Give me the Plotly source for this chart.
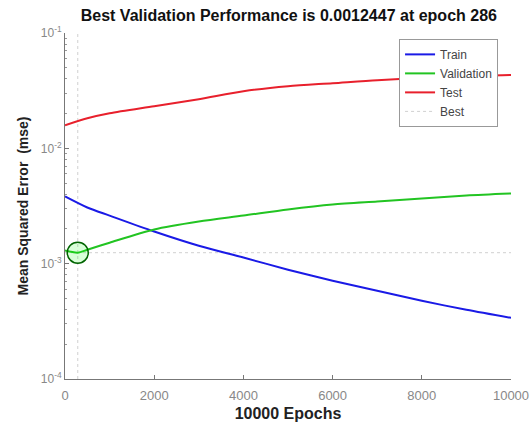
import plotly.graph_objects as go

epochs = [0, 500, 1000, 2000, 3000, 4000, 5000, 6000, 7000, 8000, 9000, 10000]
train = [0.00383, 0.00307, 0.00261, 0.00190, 0.00143, 0.00113, 0.000887, 0.000711, 0.000582, 0.000477, 0.000398, 0.000339]
val_epochs = [0, 286, 500, 1000, 2000, 3000, 4000, 5000, 6000, 7000, 8000, 9000, 10000]
validation = [0.00130, 0.0012447, 0.00132, 0.00152, 0.00198, 0.00232, 0.00261, 0.00295, 0.00326, 0.00346, 0.00367, 0.00390, 0.00406]
test = [0.01585, 0.01824, 0.02015, 0.0232, 0.0267, 0.0313, 0.0346, 0.0367, 0.0390, 0.0406, 0.0423, 0.0432]
best_epoch = 286
best_perf = 0.0012447
x_ticks = [0, 2000, 4000, 6000, 8000, 10000]
x_tick_text = ["0", "2000", "4000", "6000", "8000", "10000"]
y_ticks = [1e-4, 1e-3, 1e-2, 1e-1]
y_tick_text = ["10<sup>-4</sup>", "10<sup>-3</sup>", "10<sup>-2</sup>", "10<sup>-1</sup>"]
y_minor = [m * 10.0 ** k for k in (-4, -3, -2) for m in range(2, 10)]

fig = go.Figure()
fig.add_trace(go.Scatter(x=[best_epoch, best_epoch, None, 0, 10000],
                         y=[1e-4, 1e-1, None, best_perf, best_perf],
                         mode="lines", name="Best", legendrank=4,
                         line=dict(color="#d0d0d0", width=1, dash="dot")))
fig.add_trace(go.Scatter(x=epochs, y=train, mode="lines", name="Train", legendrank=1,
                         line=dict(color="#1a1ae6", width=2, shape="spline", smoothing=0.8)))
fig.add_trace(go.Scatter(x=val_epochs, y=validation, mode="lines", name="Validation", legendrank=2,
                         line=dict(color="#22c422", width=2, shape="spline", smoothing=0.8)))
fig.add_trace(go.Scatter(x=epochs, y=test, mode="lines", name="Test", legendrank=3,
                         line=dict(color="#e8202c", width=2, shape="spline", smoothing=0.8)))
fig.add_trace(go.Scatter(x=[best_epoch], y=[best_perf], mode="markers", showlegend=False,
                         marker=dict(symbol="circle", size=21, color="rgba(0,255,0,0.15)",
                                     line=dict(color="#006400", width=1.5))))

font_family = "Liberation Sans, Arial, sans-serif"
fig.update_layout(
    width=530, height=427,
    margin=dict(l=65, r=19, t=33, b=48, autoexpand=False),
    paper_bgcolor="white", plot_bgcolor="white",
    title=dict(text="<b>Best Validation Performance is 0.0012447 at epoch 286</b>",
               x=0.545, xanchor="center", yref="container", y=1 - 15 / 427, yanchor="middle",
               font=dict(family=font_family, size=16, color="#111")),
    font=dict(family=font_family, color="#444"),
    legend=dict(x=0.749, y=0.983, xanchor="left", yanchor="top",
                bgcolor="white", bordercolor="#999", borderwidth=1,
                font=dict(size=12, color="#444"), tracegroupgap=0,
                itemwidth=30),
    showlegend=True,
)
fig.update_xaxes(range=[0, 10000], tickvals=x_ticks, ticktext=x_tick_text,
                 ticks="inside", ticklen=4,
                 tickcolor="#777", showline=True, linecolor="#777", linewidth=1,
                 showgrid=False, zeroline=False, mirror=False, automargin=False,
                 ticklabelstandoff=4,
                 tickfont=dict(size=13, color="#888"),
                 title=dict(text="<b>10000 Epochs</b>", font=dict(size=16, color="#222"), standoff=6))
fig.update_yaxes(type="log", range=[-4, -1], tickvals=y_ticks, ticktext=y_tick_text,
                 ticks="inside", ticklen=4, tickcolor="#777",
                 minor=dict(tickvals=y_minor, ticks="inside", ticklen=2, tickcolor="#999", showgrid=False),
                 showline=True, linecolor="#777", linewidth=1, showgrid=False, automargin=False,
                 zeroline=False, tickfont=dict(size=12, color="#888"),
                 title=dict(text="<b>Mean Squared Error  (mse)</b>", font=dict(size=14, color="#222"), standoff=8))

fig.write_html("out.html", config={"displayModeBar": False},
               post_script="document.body.style.margin='0';")
